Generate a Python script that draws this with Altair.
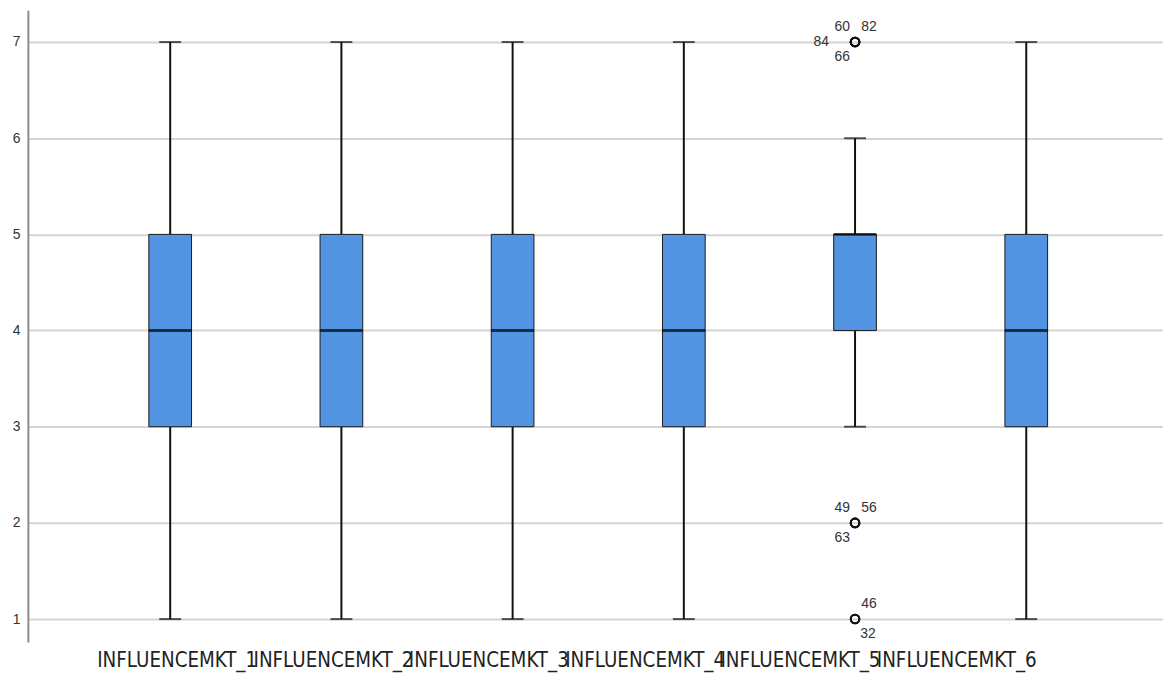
import altair as alt
import pandas as pd

variables = ["INFLUENCEMKT_1", "INFLUENCEMKT_2", "INFLUENCEMKT_3",
             "INFLUENCEMKT_4", "INFLUENCEMKT_5", "INFLUENCEMKT_6"]
whisker_low = [1, 1, 1, 1, 3, 1]
q1 = [3, 3, 3, 3, 4, 3]
median = [4, 4, 4, 4, 5, 4]
q3 = [5, 5, 5, 5, 5, 5]
whisker_high = [7, 7, 7, 7, 6, 7]

outlier_var = ["INFLUENCEMKT_5"] * 9
outlier_value = [7, 7, 7, 7, 2, 2, 2, 1, 1]
outlier_case = ["60", "82", "84", "66", "49", "56", "63", "46", "32"]
outlier_side = ["ul", "ur", "l", "ll", "ul", "ur", "ll", "ur", "lr"]

y_ticks = [1, 2, 3, 4, 5, 6, 7]

summary = pd.DataFrame({
    "var": variables, "lo": whisker_low, "q1": q1, "med": median,
    "q3": q3, "hi": whisker_high,
})
outl = pd.DataFrame({
    "var": outlier_var, "value": outlier_value,
    "case": outlier_case, "side": outlier_side,
})

LABEL_FONT = "Liberation Sans Narrow, Arial Narrow, DejaVu Sans Condensed, sans-serif"

# SPSS squeezes the category labels: they drift left of their boxes
label_shift = [-74, -89, -105, -120, -136, -151]
offset_expr = " : ".join(
    f"datum.value == '{v}' ? {s}" for v, s in zip(variables, label_shift)
) + " : 0"

xscale = alt.Scale(type="point", domain=variables, padding=0.815, align=0.51)
yscale = alt.Scale(domain=[0.7625, 7.33], nice=False, zero=False)

x_enc = alt.X("var:N", scale=xscale, sort=variables, title=None,
              axis=alt.Axis(labelFont=LABEL_FONT, labelFontSize=20.5,
                            labelColor="#222222", labelPadding=9,
                            labelAlign="left",
                            labelOffset={"expr": offset_expr},
                            ticks=False, domain=False, grid=False,
                            labelAngle=0, labelOverlap=False))
y_axis = alt.Axis(values=y_ticks, format="d", grid=True, gridColor="#d4d4d4",
                  gridWidth=2, ticks=False, domain=True,
                  domainColor="#8c8c8c", domainWidth=2,
                  labelFont="Liberation Sans", labelFontSize=14,
                  labelColor="#333333", labelPadding=8, title=None)

base = alt.Chart(summary)

whisk_low = base.mark_rule(color="#111111", strokeWidth=2).encode(
    x=x_enc, y=alt.Y("lo:Q", scale=yscale, axis=y_axis), y2="q1:Q")
whisk_high = base.mark_rule(color="#111111", strokeWidth=2).encode(
    x=x_enc, y=alt.Y("q3:Q", scale=yscale), y2="hi:Q")
cap_low = base.mark_tick(color="#111111", thickness=2, size=22).encode(
    x=x_enc, y=alt.Y("lo:Q", scale=yscale))
cap_high = base.mark_tick(color="#111111", thickness=2, size=22).encode(
    x=x_enc, y=alt.Y("hi:Q", scale=yscale))
box = base.mark_bar(size=43, color="#5294E2", stroke="#1a1a1a",
                    strokeWidth=1).encode(
    x=x_enc, y=alt.Y("q1:Q", scale=yscale), y2="q3:Q")
med = base.mark_tick(color="#000000", thickness=3, size=43).encode(
    x=x_enc, y=alt.Y("med:Q", scale=yscale))

obase = alt.Chart(outl)
pts = obase.mark_point(shape="circle", filled=False, color="#111111",
                       strokeWidth=2, size=75, opacity=1).encode(
    x=x_enc, y=alt.Y("value:Q", scale=yscale))

offsets = {"ul": (-13, -15), "ur": (14, -15), "l": (-34, 0),
           "ll": (-13, 15), "lr": (13, 15)}
texts = []
for side, (dx, dy) in offsets.items():
    texts.append(
        obase.transform_filter(alt.datum.side == side).mark_text(
            font="Liberation Sans", fontSize=14, color="#333333",
            dx=dx, dy=dy, align="center", baseline="middle").encode(
            x=x_enc, y=alt.Y("value:Q", scale=yscale), text="case:N"))

chart = alt.layer(whisk_low, whisk_high, cap_low, cap_high, box, med, pts,
                  *texts).properties(
    width=1143, height=636,
    autosize=alt.AutoSizeParams(type="none"),
    padding={"left": 20, "top": 0, "right": 0, "bottom": 30},
).configure(background="white").configure_view(stroke="transparent", strokeWidth=0)

chart.save("out.html", embed_options={"renderer": "svg", "actions": False})
